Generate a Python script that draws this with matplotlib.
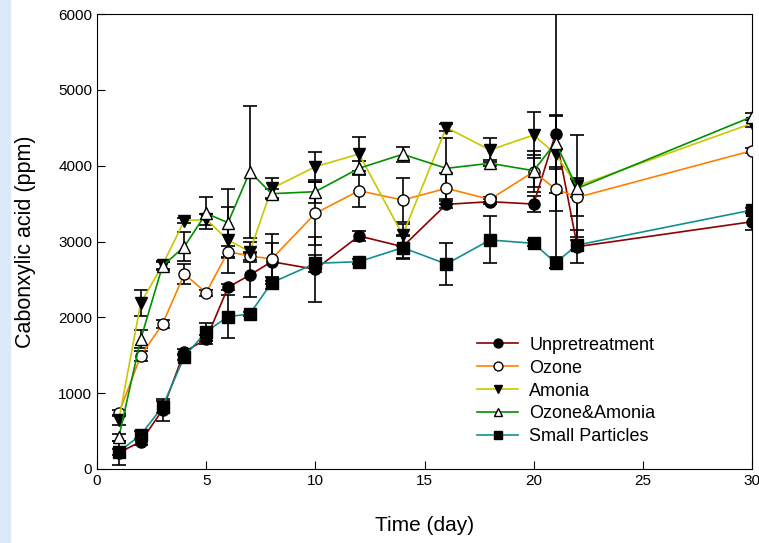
import numpy as np
import matplotlib.pyplot as plt
from matplotlib.patches import Rectangle

plt.rcParams['font.family'] = ['Liberation Sans', 'DejaVu Sans']

# dados
dias = [1, 2, 3, 4, 5, 6, 7, 8, 10, 12, 14, 16, 18, 20, 21, 22, 30]

unpre = [215, 360, 778, 1547, 1710, 2396, 2558, 2734, 2633, 3073, 2932, 3490, 3525, 3494, 4418, 2932, 3261]
unpre_err = [160, 40, 140, 40, 60, 40, 290, 250, 430, 60, 150, 50, 30, 100, 1770, 220, 110]

ozone = [734, 1490, 1912, 2571, 2325, 2866, 2809, 2769, 3371, 3670, 3547, 3701, 3556, 3921, 3692, 3582, 4198]
ozone_err = [40, 70, 50, 130, 40, 80, 50, 330, 420, 215, 290, 200, 30, 270, 290, 250, 30]

amonia = [646, 2185, 2690, 3274, 3292, 3020, 2866, 3700, 3986, 4154, 3086, 4503, 4207, 4404, 4154, 3732, 4558]
amonia_err = [60, 170, 50, 30, 70, 430, 130, 140, 200, 230, 150, 50, 160, 300, 520, 670, 50]

oz_am = [418, 1710, 2677, 2932, 3371, 3248, 3920, 3630, 3657, 3965, 4150, 3965, 4031, 3934, 4304, 3701, 4646]
oz_am_err = [50, 120, 50, 190, 210, 450, 870, 60, 150, 90, 100, 400, 40, 210, 350, 120, 50]

small = [228, 448, 822, 1481, 1811, 2009, 2044, 2457, 2712, 2734, 2919, 2703, 3020, 2976, 2721, 2954, 3415]
small_err = [40, 50, 80, 40, 120, 280, 30, 80, 110, 30, 150, 280, 310, 40, 70, 60, 30]

series = [
    ('Unpretreatment', unpre, unpre_err, '#8b0000', 'o', 'black'),
    ('Ozone', ozone, ozone_err, '#ff8000', 'o', 'white'),
    ('Amonia', amonia, amonia_err, '#c8c800', 'v', 'black'),
    ('Ozone&Amonia', oz_am, oz_am_err, '#009000', '^', 'white'),
    ('Small Particles', small, small_err, '#109090', 's', 'black'),
]

fig = plt.figure(figsize=(7.59, 5.43), dpi=100)
# faixa azul clara na borda esquerda
fig.patches.append(Rectangle((0, 0), 10 / 759, 1, transform=fig.transFigure,
                             color='#dce9f9', zorder=0))
ax = fig.add_axes([97 / 759, 74 / 543, 655 / 759, 455 / 543])

for nome, y, err, cor, mk, face in series:
    ax.errorbar(dias, y, yerr=err, fmt='none', ecolor='black', elinewidth=1.2,
                capsize=5, capthick=1.2, zorder=2)
    ax.plot(dias, y, color=cor, lw=1.2, marker=mk, markersize=8,
            markerfacecolor=face, markeredgecolor='black', markeredgewidth=1.0,
            label=nome, zorder=3)

ax.set_xlim(0, 30)
ax.set_ylim(0, 6000)
ax.set_xticks(np.arange(0, 31, 5))
ax.set_yticks(np.arange(0, 6001, 1000))
ax.tick_params(direction='in', length=6, labelsize=11, top=False, right=False)
ax.set_xlabel('Time (day)', fontsize=15, labelpad=20)
ax.set_ylabel('Cabonxylic acid (ppm)', fontsize=15.5, labelpad=16)

ax.legend(loc='upper left', bbox_to_anchor=(0.58, 0.291), frameon=False,
          fontsize=13, handlelength=2.3, labelspacing=0.33, handletextpad=0.6,
          markerscale=0.8, borderpad=0, borderaxespad=0)

fig.savefig('out.png', dpi=100)
